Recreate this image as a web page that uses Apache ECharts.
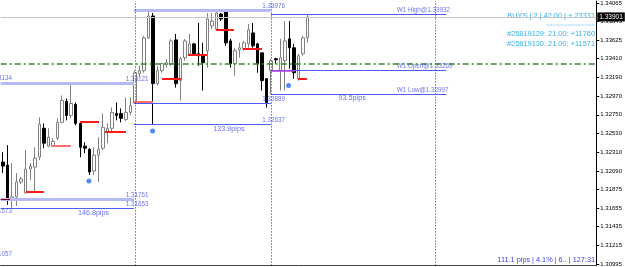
<!DOCTYPE html>
<html><head><meta charset="utf-8">
<script src="https://cdn.jsdelivr.net/npm/echarts@6/dist/echarts.min.js"></script>
<style>html,body{margin:0;padding:0;background:#fff;overflow:hidden}#c{width:625px;height:267px}</style>
</head><body><div id="c"></div>
<script>
// ---- data ----
const barSlots = 131;            // H4 bar slots visible on the chart
const candles = [                // [open, close, low, high]
 [1.32194,1.32147,1.32065,1.32310],[1.32158,1.31761,1.31691,1.32392],[1.31761,1.31784,1.31653,1.32182],
 [1.31784,1.31960,1.31679,1.32065],[1.31960,1.31995,1.31936,1.32018],[1.31831,1.32112,1.31820,1.32334],
 [1.32112,1.32147,1.31983,1.32182],[1.32135,1.32240,1.31843,1.32369],[1.32252,1.32638,1.32217,1.32720],
 [1.32591,1.32416,1.32357,1.32649],[1.32381,1.32486,1.32369,1.32591],[1.32381,1.32439,1.32369,1.32474],
 [1.32474,1.32661,1.32451,1.32708],[1.32661,1.32918,1.32649,1.32977],[1.32907,1.32743,1.32684,1.32942],
 [1.32743,1.32883,1.32708,1.33121],[1.32871,1.32649,1.32626,1.32895],[1.32649,1.32369,1.32252,1.32673],
 [1.32381,1.32357,1.32299,1.32427],[1.32345,1.32077,1.32042,1.32357],[1.32088,1.32275,1.32042,1.32369],
 [1.32275,1.32345,1.31960,1.32486],[1.32357,1.32603,1.32334,1.32766],[1.32556,1.32591,1.32416,1.32649],
 [1.32591,1.32778,1.32544,1.32836],[1.32766,1.32743,1.32684,1.32895],[1.32766,1.32708,1.32661,1.32825],
 [1.32696,1.32778,1.32673,1.32953],[1.32778,1.32860,1.32743,1.32953],
 [1.32889,1.33245,1.32880,1.33269],[1.33234,1.33269,1.33199,1.33327],[1.33269,1.33655,1.33245,1.33678],
 [1.33655,1.33912,1.33643,1.33976],[1.33912,1.33117,1.32637,1.33947],[1.33117,1.33269,1.33094,1.33327],
 [1.33269,1.33351,1.33245,1.33362],[1.33339,1.33362,1.33304,1.33409],[1.33351,1.33619,1.33327,1.33643],
 [1.33631,1.33117,1.33070,1.33701],[1.33152,1.33409,1.32918,1.33432],[1.33421,1.33619,1.33386,1.33643],
 [1.33468,1.33584,1.33444,1.33701],[1.33584,1.33468,1.33444,1.33596],[1.33468,1.33444,1.33327,1.33830],
 [1.33444,1.33362,1.33035,1.33596],[1.33503,1.33877,1.33304,1.33947],[1.33795,1.33853,1.33760,1.33947],
 [1.33760,1.33947,1.33736,1.33970],[1.33935,1.33877,1.33853,1.33947],[1.33970,1.33596,1.33561,1.33970],
 [1.33619,1.33351,1.33304,1.33643],[1.33351,1.33503,1.33210,1.33538],[1.33514,1.33538,1.33421,1.33596],
 [1.33526,1.33596,1.33503,1.33619],[1.33584,1.33748,1.33538,1.33818],[1.33713,1.33561,1.33538,1.33830],
 [1.33584,1.33351,1.33245,1.33596],[1.33479,1.33152,1.33035,1.33479],[1.33175,1.32895,1.32836,1.33175],
 [1.33269,1.33386,1.32997,1.33409],[1.33409,1.33397,1.33351,1.33421],[1.33269,1.33421,1.33035,1.33643],
 [1.33386,1.33619,1.33035,1.33853],[1.33643,1.33538,1.33292,1.33853],[1.33538,1.33245,1.33175,1.33584],
 [1.33175,1.33444,1.33152,1.33468],[1.33468,1.33655,1.33444,1.33678],[1.33655,1.33901,1.33596,1.33932]
];
const priceMin = 1.30978, priceMax = 1.34087;
const yTicks = [1.34065,1.33845,1.33625,1.33410,1.33190,1.32970,1.32750,1.32530,1.32310,1.32090,1.31875,1.31655,1.31435,1.31215,1.30995];
const bidPrice = 1.33901;
const greenLevel = 1.33355;
const weekStarts = [29, 59, 95];   // bar index of period separators
// [fromBar, toBar, price, kind]
const weekLevels = [
 [-0.5, 28.8, 1.33121, 'range'], [-0.5, 28.8, 1.31761, 'range'], [-0.5, 28.8, 1.31653, 'level'],
 [28.8, 58.9, 1.33976, 'range'], [28.8, 58.9, 1.32889, 'level'], [28.8, 58.9, 1.32637, 'level'],
 [58.9, 97.5, 1.33932, 'level'], [58.9, 97.5, 1.33269, 'level'], [58.9, 97.5, 1.32997, 'level']
];
const redMarks = [
 [-0.5, 1.54, 1.31761, 'maroon'], [5.06, 9.01, 1.31839, 'red'], [10.77, 14.95, 1.32384, 'pale'],
 [16.93, 21.11, 1.32665, 'red'], [22.43, 27.04, 1.32556, 'red'], [28.8, 33.0, 1.32907, 'pale'],
 [34.96, 39.14, 1.33172, 'red'], [40.68, 44.85, 1.33456, 'red'], [46.83, 50.79, 1.33748, 'red'],
 [52.77, 56.95, 1.33522, 'red'], [58.93, 64.2, 1.33269, 'purple'], [64.86, 66.84, 1.33172, 'red']
];
const dots = [[18.9, 1.31971], [32.9, 1.32559], [62.8, 1.33094]];
// [bar, price, text, kind]
const priceLabels = [
 [27.0, 1.33121, '1.33121', 'px'], [27.0, 1.31761, '1.31761', 'px'], [27.0, 1.31653, '1.31653', 'px'],
 [57.0, 1.33976, '1.33976', 'px'], [57.0, 1.32889, '1.32889', 'px'], [57.0, 1.32637, '1.32637', 'px'],
 [86.6, 1.33932, 'W1 High@1.33932', 'px'], [86.6, 1.33269, 'W1 Open@1.33269', 'px'], [86.6, 1.32997, 'W1 Low@1.32997', 'px'],
 [19.9, 1.31653, '146.8pips', 'pips'], [49.7, 1.32637, '133.9pips', 'pips'], [76.8, 1.32997, '93.5pips', 'pips'],
 [2.0, 1.33134, '1.33134', 'cut'], [2.0, 1.31573, '1.31573', 'cut'], [2.0, 1.31057, '1.31057', 'cut']
];
const infoLines = ['BUYS | 2 | 42.00 | + 23331', '==============', '#25819129: 21.00: +11760', '#25819130: 21.00: +11571'];
const footerText = '111.1 pips | 4.1% | 6.. | 127:31';

// ---- chart ----
const FONT = '"Liberation Sans", Arial, sans-serif';
const chart = echarts.init(document.getElementById('c'), null, {renderer: 'canvas'});
const cats = Array.from({length: barSlots}, (_, i) => String(i));
const levelStyle = {
  range: {color: '#b4baf6', width: 3, type: 'solid'},
  level: {color: '#4d5cf2', width: 1, type: 'solid'}
};
const redStyle = {
  red: {color: '#ff1a1a', width: 2}, pale: {color: '#ff7070', width: 2},
  maroon: {color: '#8b0000', width: 1}, purple: {color: '#b040d8', width: 1.5}
};
const lines = [];
weekLevels.forEach(([a, b, p, k]) => lines.push([{coord: [a, p], lineStyle: levelStyle[k]}, {coord: [b, p]}]));
redMarks.forEach(([a, b, p, k]) => lines.push([{coord: [a, p], lineStyle: Object.assign({type: 'solid'}, redStyle[k])}, {coord: [b, p]}]));
weekStarts.forEach(w => lines.push({xAxis: w, lineStyle: {color: '#333', width: 1, type: [1, 2]}}));
lines.push({yAxis: greenLevel, lineStyle: {color: '#2f8a2a', width: 1.5, type: [6, 3, 2, 3]}});
lines.push({yAxis: bidPrice, lineStyle: {color: '#c4c4c4', width: 1, type: 'solid'},
  label: {show: true, position: 'end', distance: 1, formatter: bidPrice.toFixed(5), color: '#fff',
    backgroundColor: '#000', padding: [1, 2, 1, 2], fontSize: 6.5, fontFamily: FONT}});

const labelItems = priceLabels.map(([j, p, t, k]) => {
  let lab;
  if (k === 'px') lab = {align: 'left', verticalAlign: 'bottom', offset: [0, -1], color: '#4650e6', fontSize: 6.3};
  else if (k === 'pips') lab = {align: 'center', verticalAlign: 'top', offset: [0, 1], color: '#4048e8', fontSize: 7.2};
  else lab = {align: 'right', verticalAlign: 'bottom', offset: [0, -1], color: '#4650e6', fontSize: 6.3};
  return {value: [j, p], label: Object.assign({show: true, position: 'inside', formatter: t, fontFamily: FONT}, lab)};
});

const graphics = [];
const infoY = [16, 25.7, 34.3, 43.7];
infoLines.forEach((t, i) => graphics.push({type: 'text', x: 595, y: infoY[i], silent: true,
  style: {text: t, align: 'right', verticalAlign: 'middle', fill: i === 1 ? '#a9d9f7' : '#36b0f0',
    fontSize: i === 1 ? 6 : 7.4, fontFamily: FONT}}));
graphics.push({type: 'text', x: 595, y: 260, silent: true,
  style: {text: footerText, align: 'right', verticalAlign: 'middle', fill: '#4040e8', fontSize: 7.3, fontFamily: FONT}});

chart.setOption({
  animation: false,
  backgroundColor: '#fff',
  grid: {left: 0.73, right: 28.5, top: 0, bottom: 1, containLabel: false},
  xAxis: [
    {type: 'category', data: cats, boundaryGap: true, axisLine: {show: true, lineStyle: {color: '#444', width: 1}},
     axisTick: {show: false}, axisLabel: {show: false}, splitLine: {show: false}},
    {type: 'value', min: -0.5, max: barSlots - 0.5, show: false}
  ],
  yAxis: {type: 'value', position: 'right', min: priceMin, max: priceMax, scale: true,
    axisLine: {show: true, onZero: false, lineStyle: {color: '#000', width: 1}},
    axisTick: {show: true, length: 3, inside: false, customValues: yTicks, lineStyle: {color: '#000'}},
    axisLabel: {show: true, customValues: yTicks, margin: 4, color: '#000', fontSize: 6, fontFamily: FONT,
      formatter: v => Number(v).toFixed(5)},
    splitLine: {show: false}},
  graphic: graphics,
  series: [
    {type: 'candlestick', name: 'GBPUSD H4', data: candles, barWidth: 3, xAxisIndex: 0,
     itemStyle: {color: '#ffffff', color0: '#000000', borderColor: '#808080', borderColor0: '#000000', borderWidth: 1}},
    {type: 'scatter', name: 'marks', xAxisIndex: 1, data: dots, symbolSize: 5, itemStyle: {color: '#2a6cf2'}, z: 5,
     markLine: {silent: true, precision: 5, symbol: ['none', 'none'], label: {show: false}, data: lines, animation: false}},
    {type: 'scatter', name: 'labels', xAxisIndex: 1, data: labelItems, symbolSize: 0, itemStyle: {color: 'transparent'}, z: 6}
  ]
});
</script></body></html>
